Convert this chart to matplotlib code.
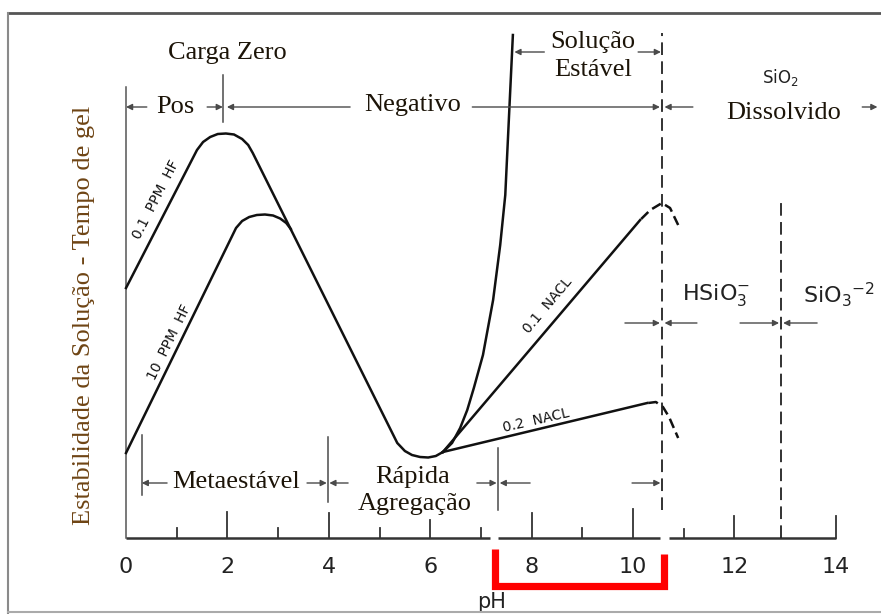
import matplotlib
matplotlib.use('Agg')
from matplotlib import pyplot as plt
from matplotlib.lines import Line2D

plt.rcParams['mathtext.fontset'] = 'dejavusans'

# curves: pH vs stability (gel time, arbitrary units)
hf01_ph = [0.0, 1.40, 1.52, 1.66, 1.81, 1.97, 2.13, 2.29, 2.41, 2.50, 5.35, 5.50, 5.64, 5.80, 5.96, 6.11, 6.25]
hf01_y = [5.0, 7.76, 7.92, 8.02, 8.08, 8.09, 8.07, 7.98, 7.86, 7.70, 1.90, 1.74, 1.66, 1.62, 1.61, 1.64, 1.72]

hf10_ph = [0.0, 2.17, 2.29, 2.43, 2.58, 2.74, 2.90, 3.04, 3.16, 3.25]
hf10_y = [1.70, 6.20, 6.34, 6.42, 6.46, 6.47, 6.45, 6.39, 6.30, 6.18]

stable_ph = [6.25, 6.43, 6.59, 6.73, 6.86, 7.04, 7.24, 7.38, 7.48, 7.55, 7.63]
stable_y = [1.72, 1.90, 2.20, 2.56, 3.00, 3.66, 4.76, 5.86, 6.86, 8.36, 10.06]

nacl01_ph = [6.25, 10.14]
nacl01_y = [1.72, 6.36]
nacl01_tail_ph = [10.16, 10.34, 10.57, 10.73, 10.89]
nacl01_tail_y = [6.38, 6.56, 6.70, 6.60, 6.26]

nacl02_ph = [6.25, 10.28]
nacl02_y = [1.72, 2.70]
nacl02_tail_ph = [10.30, 10.45, 10.59, 10.71, 10.89]
nacl02_tail_y = [2.70, 2.72, 2.62, 2.42, 2.00]

# dashed boundaries (pH, bottom, top)
bound_ph = [10.57, 12.92]
bound_lo = [0.56, 0.0]
bound_hi = [10.1, 6.72]

# x axis
tick_ph = [1, 2, 3, 4, 5, 6, 7, 8, 9, 10, 11, 12, 14]
tick_len = [0.2, 0.52, 0.2, 0.5, 0.2, 0.36, 0.2, 0.5, 0.2, 0.58, 0.18, 0.44, 0.44]
label_ph = [0, 2, 4, 6, 8, 10, 12, 14]
axis_segments = [(0, 7.18), (7.34, 10.53), (10.71, 14.0)]

# dimension arrows: (tail, head, level)
arrows = [
    (0.41, 0.0, 8.62), (1.60, 1.91, 8.62), (4.42, 1.99, 8.62),
    (6.83, 10.53, 8.62), (11.18, 10.62, 8.62), (14.52, 14.82, 8.62),
    (8.25, 7.66, 9.72), (10.10, 10.55, 9.72),
    (9.84, 10.53, 4.30), (11.26, 10.62, 4.30),
    (12.11, 12.88, 4.30), (13.63, 12.96, 4.30),
    (0.81, 0.31, 1.10), (3.57, 3.96, 1.10), (4.38, 4.01, 1.10),
    (6.92, 7.31, 1.10), (7.97, 7.37, 1.10), (9.98, 10.54, 1.10),
]
# separator bars: (pH, bottom, top)
bars = [(1.92, 8.32, 9.26), (0.31, 0.86, 2.06), (3.98, 0.72, 2.02), (7.34, 0.56, 1.80)]

bracket_ph = [7.27, 10.61]

fig = plt.figure(figsize=(8.81, 6.14), dpi=100)
ax = fig.add_axes([0, 0, 1, 1])
ax.set_xlim(-2.485, 14.89)
ax.set_ylim(-1.52, 10.76)
ax.axis('off')

ink = '#111111'
grey = '#4a4a4a'
serif = 'Liberation Serif'
sans = 'DejaVu Sans'

# frame of the scan
fig.add_artist(Line2D([0.009, 1], [0.979, 0.979], transform=fig.transFigure, color='#555555', lw=2))
fig.add_artist(Line2D([0.009, 0.009], [0.0, 0.979], transform=fig.transFigure, color='#8a8a8a', lw=1.5))
fig.add_artist(Line2D([0.009, 1], [0.003, 0.003], transform=fig.transFigure, color='#aaaaaa', lw=1.5))

# axes
ax.plot([0, 0], [0, 9.02], color='#555555', lw=1.1)
for a, b in axis_segments:
    ax.plot([a, b], [0, 0], color='#333333', lw=1.8, solid_capstyle='butt')
for t, h in zip(tick_ph, tick_len):
    ax.plot([t, t], [0, h], color='#333333', lw=1.3)
for t in label_ph:
    ax.text(t, -0.58, str(t), ha='center', va='center', fontsize=16, family=sans, color='#222222')
ax.text(7.2, -1.28, 'pH', ha='center', va='center', fontsize=15, family=sans, color='#222222')

# curves
ax.plot(hf01_ph, hf01_y, color=ink, lw=1.8)
ax.plot(hf10_ph, hf10_y, color=ink, lw=1.8)
ax.plot(stable_ph, stable_y, color=ink, lw=1.8)
ax.plot(nacl01_ph, nacl01_y, color=ink, lw=1.8)
ax.plot(nacl02_ph, nacl02_y, color=ink, lw=1.8)
ax.plot(nacl01_tail_ph, nacl01_tail_y, color=ink, lw=1.8, dashes=(4, 2))
ax.plot(nacl02_tail_ph, nacl02_tail_y, color=ink, lw=1.8, dashes=(4, 2))

for x, lo, hi in zip(bound_ph, bound_lo, bound_hi):
    ax.plot([x, x], [lo, hi], color='#222222', lw=1.3, dashes=(7, 3.5))

# curve labels
lab = dict(ha='center', va='center', fontsize=10, family=sans, color=ink)
ax.text(0.59, 6.76, '0.1  PPM  HF', rotation=63, **lab)
ax.text(0.85, 3.92, '10  PPM  HF', rotation=64, **lab)
ax.text(8.32, 4.66, '0.1  NACL', rotation=50, **lab)
ax.text(8.09, 2.36, '0.2  NACL', rotation=13, **lab)

# dimension arrows and bars
for tail, head, yy in arrows:
    ax.annotate('', xy=(head, yy), xytext=(tail, yy),
                arrowprops=dict(arrowstyle='-|>', color=grey, lw=1.0, mutation_scale=9,
                                shrinkA=0, shrinkB=0))
for x, lo, hi in bars:
    ax.plot([x, x], [lo, hi], color=grey, lw=1.1)

# region labels
txt = dict(ha='center', va='center', fontsize=19, family=serif, color='#1c1408')
ax.text(1.99, 9.70, 'Carga Zero', **txt)
ax.text(0.97, 8.62, 'Pos', **txt)
ax.text(5.66, 8.66, 'Negativo', **txt)
ax.text(9.21, 9.92, 'Solução', **txt)
ax.text(9.21, 9.36, 'Estável', **txt)
ax.text(12.98, 8.50, 'Dissolvido', **txt)
ax.text(2.17, 1.12, 'Metaestável', **txt)
ax.text(5.66, 1.22, 'Rápida', **txt)
ax.text(5.70, 0.68, 'Agregação', **txt)

ax.text(12.90, 9.20, r'SiO$_2$', ha='center', va='center', fontsize=12, family=sans, color='#222222')
ax.text(11.64, 4.86, r'HSiO$_3^{-}$', ha='center', va='center', fontsize=16, family=sans, color='#222222')
ax.text(13.35, 4.86, r'SiO$_3{}^{-2}$', ha='left', va='center', fontsize=16, family=sans, color='#222222')

ax.text(-0.83, 4.45, 'Estabilidade da Solução - Tempo de gel', rotation=90, ha='center', va='center',
        fontsize=19, family=serif, color='#6e4414')

# red bracket
ax.plot([bracket_ph[0], bracket_ph[0], bracket_ph[1], bracket_ph[1]], [-0.22, -0.95, -0.95, -0.32],
        color='#ff0000', lw=5.2, solid_joinstyle='miter', solid_capstyle='butt')

fig.savefig('out.png', dpi=100)
